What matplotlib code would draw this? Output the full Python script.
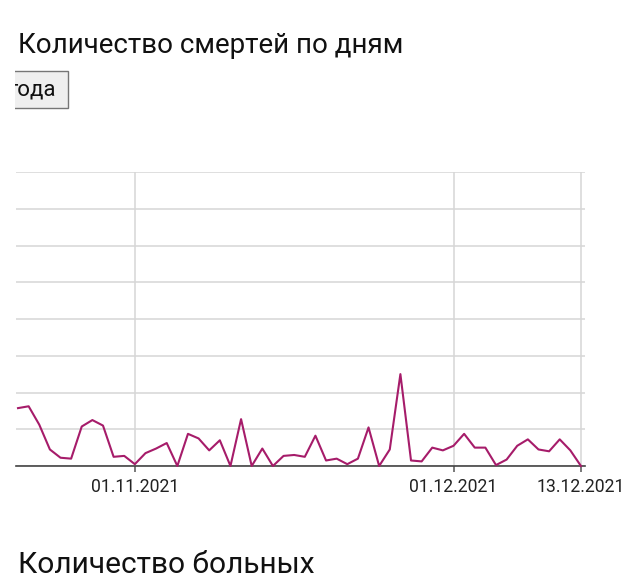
import matplotlib
matplotlib.use('Agg')
import matplotlib.pyplot as plt
from matplotlib.patches import Rectangle
from matplotlib.transforms import Bbox, TransformedBbox
import numpy as np
import pandas as pd

plt.rcParams['font.family'] = ['Roboto', 'DejaVu Sans']

# данные: смерти по дням, 21.10.2021 - 13.12.2021
dates = pd.date_range('2021-10-21', '2021-12-13', freq='D')
deaths = [6.3, 6.5, 4.5, 1.8, 0.9, 0.8, 4.3, 5.0, 4.4, 1.0,
          1.1, 0.2, 1.4, 1.9, 2.5, 0.0, 3.5, 3.0, 1.7, 2.8,
          0.0, 5.1, 0.0, 1.9, 0.0, 1.1, 1.2, 1.0, 3.3, 0.6,
          0.8, 0.2, 0.8, 4.2, 0.0, 1.8, 10.0, 0.6, 0.5, 2.0,
          1.7, 2.2, 3.5, 2.0, 2.0, 0.1, 0.7, 2.2, 2.9, 1.8,
          1.6, 2.9, 1.7, 0.0]
tick_dates = pd.to_datetime(['2021-11-01', '2021-12-01', '2021-12-13'])
tick_labels = ['01.11.2021', '01.12.2021', '13.12.2021']
y_ticks = np.arange(0, 33, 4)

W, H = 640, 584
fig = plt.figure(figsize=(W / 100, H / 100), dpi=100)
fig.patch.set_facecolor('white')


def fx(px):
    return px / W


def fy(py):
    return 1 - py / H


# заголовок
fig.text(fx(18), fy(53), 'Количество смертей по дням', fontsize=20,
         color='#111111', va='baseline', ha='left')

# кнопка (обрезана слева по x=15)
clip = TransformedBbox(Bbox([[fx(15), fy(112)], [fx(72), fy(67)]]), fig.transFigure)
btn = Rectangle((fx(-20), fy(108)), fx(88), (108 - 71) / H,
                transform=fig.transFigure, facecolor='#efefef',
                edgecolor='#767676', linewidth=1.0)
btn.set_clip_box(clip)
btn.set_clip_on(True)
fig.patches.append(btn)
t = fig.text(fx(8), fy(90), 'года', fontsize=16, color='#111111',
             va='center', ha='left')
t.set_clip_box(clip)
t.set_clip_on(True)

# график
ax = fig.add_axes([fx(16), fy(466), fx(585 - 16), (466 - 172) / H])
ax.plot(dates, deaths, color='#a61c6a', linewidth=1.5, zorder=3, clip_on=False)

ax.set_xlim(dates[0] - pd.Timedelta(days=0.19), dates[-1] + pd.Timedelta(days=0.38))
ax.set_ylim(0, 32)
ax.set_yticks(y_ticks)
ax.yaxis.grid(True, color='#d6d6d6', linewidth=1.1)
ax.tick_params(axis='y', left=False, labelleft=False)

ax.set_xticks(tick_dates)
ax.set_xticklabels(tick_labels, fontsize=12.7, color='#222222')
ax.xaxis.grid(True, color='#d6d6d6', linewidth=1.1)
ax.tick_params(axis='x', length=4.5, width=1.1, color='#555555', pad=4)
ax.set_axisbelow(True)

for s in ['top', 'right', 'left']:
    ax.spines[s].set_visible(False)
ax.spines['bottom'].set_color('#444444')
ax.spines['bottom'].set_linewidth(1.2)

# следующий раздел
fig.text(fx(18), fy(573), 'Количество больных', fontsize=21.5,
         color='#111111', va='baseline', ha='left')

fig.savefig('out.png', dpi=100)
